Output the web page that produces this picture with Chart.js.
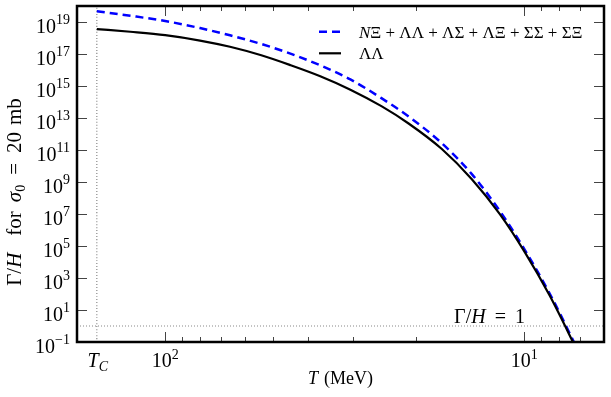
<!DOCTYPE html>
<html>
<head>
<meta charset="utf-8">
<script src="https://cdn.jsdelivr.net/npm/chart.js@4.4.0/dist/chart.umd.min.js"></script>
<style>
  html, body { margin: 0; padding: 0; background: #fff; }
  canvas { display: block; }
</style>
</head>
<body>
<canvas id="chart" width="611" height="397"></canvas>
<script>
// temperatures in MeV (x axis runs backwards, hot on the left)
const temps = [155, 125, 100, 80, 66, 54, 45, 37, 30.5, 25, 21, 17, 14, 11.7, 10, 8.5, 7.3, 6.6];
// Gamma/H, all channels summed (blue dashed)
const gammaSum = [4.68e19, 2.45e19, 1.15e19, 4.17e18, 1.48e18, 4.22e17, 1.10e17, 1.95e16, 2.57e15, 1.74e14, 1.23e13, 2.75e11, 3.09e9, 1.54e7, 6.46e4, 107, 0.115, 1.1e-3];
// Gamma/H, Lambda Lambda only (black)
const gammaLL = [3.63e18, 2.45e18, 1.50e18, 6.92e17, 2.82e17, 8.32e16, 2.09e16, 4.07e15, 5.89e14, 5.50e13, 4.53e12, 1.19e11, 1.50e9, 9.77e6, 4.57e4, 79.4, 0.087, 8.1e-4];

const seriesLabels = ["NΞ + ΛΛ + ΛΣ + ΛΞ + ΣΣ + ΣΞ", "ΛΛ"];

const T_C = 155;
const xRange = [6, 176];
const yRange = [1e-1, 1e20];
const xMajorTicks = [10, 100];
const xMinorTicks = [7, 8, 9, 20, 30, 40, 50, 60, 70, 80, 90];
const yTicks = [1e-1, 1e1, 1e3, 1e5, 1e7, 1e9, 1e11, 1e13, 1e15, 1e17, 1e19];

const SERIF = '"Liberation Serif", "DejaVu Serif", serif';
const rm = (n) => n + "px " + SERIF;
const it = (n) => "italic " + n + "px " + SERIF;

// text made of pieces: {t, font, dy, gap}
function runWidth(ctx, parts) {
  let w = 0;
  for (const p of parts) {
    ctx.font = p.font;
    w += ctx.measureText(p.t).width + (p.gap || 0);
  }
  return w;
}
function drawRun(ctx, parts, x, y) {
  for (const p of parts) {
    ctx.font = p.font;
    ctx.fillText(p.t, x, y + (p.dy || 0));
    x += ctx.measureText(p.t).width + (p.gap || 0);
  }
}
function powParts(v) {
  const e = Math.round(Math.log10(v));
  return [
    { t: "10", font: rm(20) },
    { t: (e < 0 ? "\u2212" : "") + Math.abs(e), font: rm(14), dy: -8.5 },
  ];
}

const decorations = {
  id: "decorations",
  afterDraw(chart) {
    const { ctx, chartArea: a } = chart;
    const x = chart.scales.x, y = chart.scales.y;
    ctx.save();

    // ticks pointing inwards on all four sides
    ctx.strokeStyle = "#444";
    ctx.lineWidth = 1;
    ctx.beginPath();
    x.ticks.forEach((t) => {
      const px = Math.round(x.getPixelForValue(t.value)) + 0.5;
      const len = xMajorTicks.includes(t.value) ? 10 : 5;
      ctx.moveTo(px, a.bottom); ctx.lineTo(px, a.bottom - len);
      ctx.moveTo(px, a.top); ctx.lineTo(px, a.top + len);
    });
    y.ticks.forEach((t) => {
      const py = Math.round(y.getPixelForValue(t.value)) + 0.5;
      ctx.moveTo(a.left, py); ctx.lineTo(a.left + 10, py);
      ctx.moveTo(a.right, py); ctx.lineTo(a.right - 10, py);
    });
    ctx.stroke();

    // frame
    ctx.strokeStyle = "#000";
    ctx.lineWidth = 2.5;
    ctx.strokeRect(a.left, a.top, a.width, a.height);

    ctx.fillStyle = "#000";
    ctx.textAlign = "left";
    ctx.textBaseline = "alphabetic";

    // y tick labels
    y.ticks.forEach((t) => {
      const parts = powParts(t.value);
      const py = y.getPixelForValue(t.value);
      drawRun(ctx, parts, 70 - runWidth(ctx, parts), py + 10.5);
    });
    // x tick labels
    xMajorTicks.forEach((v) => {
      const parts = powParts(v);
      const px = x.getPixelForValue(v);
      drawRun(ctx, parts, px - runWidth(ctx, parts) / 2, a.bottom + 25);
    });
    const tc = [{ t: "T", font: it(20) }, { t: "C", font: it(14), dy: 3.5 }];
    drawRun(ctx, tc, x.getPixelForValue(T_C) - runWidth(ctx, tc) / 2 + 1, a.bottom + 25);

    // axis titles
    const xt = [{ t: "T", font: it(18), gap: 6 }, { t: "(MeV)", font: rm(18) }];
    drawRun(ctx, xt, (a.left + a.right) / 2 - runWidth(ctx, xt) / 2, 384);

    const yt = [
      { t: "Γ", font: rm(21) }, { t: "/", font: rm(21) }, { t: "H", font: it(21), gap: 17 },
      { t: "for", font: rm(21), gap: 9 },
      { t: "σ", font: it(21) }, { t: "0", font: rm(14), dy: 4, gap: 10 },
      { t: "=", font: rm(21), gap: 10 }, { t: "20", font: rm(21), gap: 7 }, { t: "mb", font: rm(21) },
    ];
    ctx.save();
    ctx.translate(21, 192);
    ctx.rotate(-Math.PI / 2);
    drawRun(ctx, yt, -runWidth(ctx, yt) / 2, 0);
    ctx.restore();

    // Gamma/H = 1 note over the dotted line
    const one = [
      { t: "Γ", font: rm(20) }, { t: "/", font: rm(20) }, { t: "H", font: it(20), gap: 9 },
      { t: "=", font: rm(20), gap: 9 }, { t: "1", font: rm(20) },
    ];
    drawRun(ctx, one, 489.5 - runWidth(ctx, one) / 2, 323);

    // legend, no frame
    const rows = [
      [{ t: "N", font: it(17) }, { t: "Ξ + ΛΛ + ΛΣ + ΛΞ + ΣΣ + ΣΞ", font: rm(17) }],
      [{ t: seriesLabels[1], font: rm(17) }],
    ];
    [0, 1].forEach((i) => {
      const ds = chart.data.datasets[i];
      const ly = 31.7 + i * 21.6;
      ctx.strokeStyle = ds.borderColor;
      ctx.lineWidth = ds.borderWidth;
      ctx.setLineDash(ds.borderDash || []);
      ctx.beginPath();
      ctx.moveTo(319, ly); ctx.lineTo(341, ly);
      ctx.stroke();
      ctx.setLineDash([]);
      drawRun(ctx, rows[i], 359, ly + 6);
    });

    ctx.restore();
  },
};

new Chart(document.getElementById("chart"), {
  type: "line",
  data: {
    datasets: [
      {
        label: seriesLabels[0],
        data: temps.map((t, i) => ({ x: t, y: gammaSum[i] })),
        borderColor: "#0000ff",
        borderWidth: 2.5,
        borderDash: [8, 5],
        order: 1,
      },
      {
        label: seriesLabels[1],
        data: temps.map((t, i) => ({ x: t, y: gammaLL[i] })),
        borderColor: "#000000",
        borderWidth: 2.2,
        order: 0,
      },
      {
        label: "T_C",
        data: [{ x: T_C, y: yRange[0] }, { x: T_C, y: yRange[1] }],
        borderColor: "#888",
        borderWidth: 1.2,
        borderDash: [1, 2],
        order: 2,
      },
      {
        label: "Gamma/H = 1",
        data: [{ x: xRange[1], y: 1 }, { x: xRange[0], y: 1 }],
        borderColor: "#888",
        borderWidth: 1.2,
        borderDash: [1, 2],
        order: 2,
      },
    ],
  },
  options: {
    responsive: false,
    animation: false,
    events: [],
    elements: {
      point: { radius: 0 },
      line: { cubicInterpolationMode: "monotone", fill: false },
    },
    layout: { padding: { top: 6, right: 7, left: 0, bottom: 0 } },
    plugins: { legend: { display: false }, tooltip: { enabled: false } },
    scales: {
      x: {
        type: "logarithmic",
        reverse: true,
        min: xRange[0],
        max: xRange[1],
        bounds: "data",
        ticks: { display: false, autoSkip: false },
        grid: { display: false },
        border: { display: false },
        afterBuildTicks: (s) => {
          s.ticks = xMajorTicks.concat(xMinorTicks).map((v) => ({ value: v }));
        },
        afterFit: (s) => { s.height = 55; },
      },
      y: {
        type: "logarithmic",
        min: yRange[0],
        max: yRange[1],
        bounds: "data",
        ticks: { display: false, autoSkip: false },
        grid: { display: false },
        border: { display: false },
        afterBuildTicks: (s) => {
          s.ticks = yTicks.map((v) => ({ value: v }));
        },
        afterFit: (s) => { s.width = 77; },
      },
    },
  },
  plugins: [decorations],
});
</script>
</body>
</html>
